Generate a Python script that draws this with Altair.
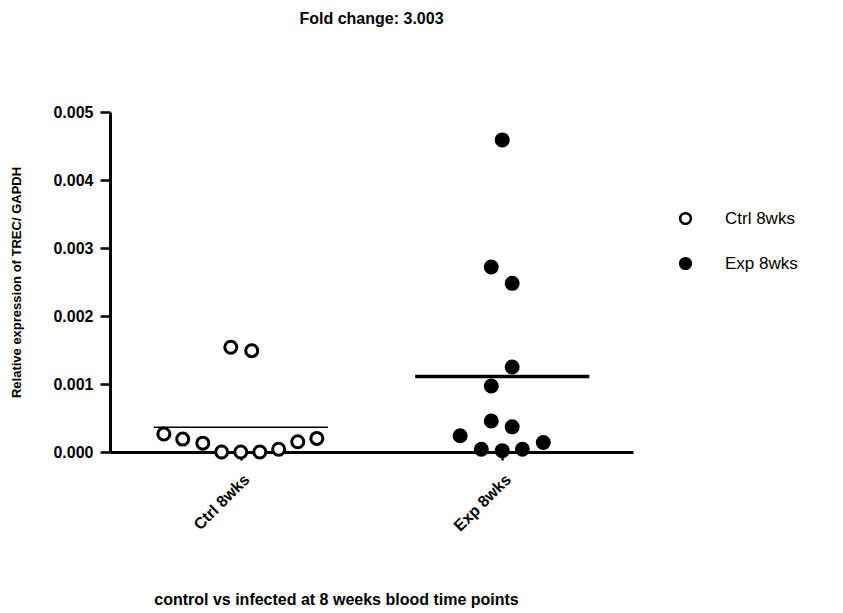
import altair as alt
import pandas as pd

groups = ["Ctrl 8wks", "Exp 8wks"]

ctrl_values = [0.00154, 0.00149, 0.000265, 0.00019, 0.00013, 0.0, 0.0, 0.0, 0.00004, 0.00015, 0.0002]
ctrl_offsets = [-0.038, 0.042, -0.294, -0.222, -0.145, -0.073, 0.0, 0.073, 0.145, 0.218, 0.291]

exp_values = [0.00459, 0.00272, 0.00248, 0.00125, 0.00097, 0.000456, 0.00037, 0.00024, 0.00014, 0.00004, 0.00002, 0.00004]
exp_offsets = [0.0, -0.042, 0.038, 0.038, -0.042, -0.042, 0.038, -0.161, 0.157, -0.08, 0.0, 0.077]

y_ticks = [0.0, 0.001, 0.002, 0.003, 0.004, 0.005]

rows = []
for v, o in zip(ctrl_values, ctrl_offsets):
    rows.append({"group": groups[0], "gi": 1, "value": v, "off": o})
for v, o in zip(exp_values, exp_offsets):
    rows.append({"group": groups[1], "gi": 2, "value": v, "off": o})
df = pd.DataFrame(rows)

FONT = "Liberation Sans"

x_scale = alt.Scale(domain=[0.5, 2.5], nice=False, zero=False)
y_scale = alt.Scale(domain=[0, 0.005], nice=False)

base = alt.Chart(df)

means = base.transform_aggregate(
    mean="mean(value)", groupby=["group", "gi"]
).transform_calculate(
    xa="datum.gi - 0.333", xb="datum.gi + 0.333", linegroup="'L' + datum.gi"
).mark_rule(color="black").encode(
    x=alt.X("xa:Q", scale=x_scale, axis=alt.Axis(
        values=[1, 2],
        labelExpr="datum.value == 1 ? 'Ctrl 8wks' : 'Exp 8wks'",
        labelAngle=-45, labelFontSize=16, labelFontWeight="bold", labelFont=FONT,
        tickSize=8, tickWidth=2.5, domainWidth=3, labelPadding=11,
        title="control vs infected at 8 weeks blood time points",
        titleFontSize=16, titleFontWeight="bold", titleFont=FONT,
        titleX=226, titleY=147, titleAlign="center", titleBaseline="middle",
        grid=False)),
    x2="xb:Q",
    y=alt.Y("mean:Q", scale=y_scale),
    strokeWidth=alt.StrokeWidth("linegroup:N", scale=alt.Scale(domain=["L1", "L2"], range=[1.5, 3.5]), legend=None),
)

points = base.transform_calculate(
    xp="datum.gi + datum.off"
).mark_point(shape="circle", filled=True, size=144, strokeWidth=3, stroke="black", opacity=1).encode(
    x=alt.X("xp:Q", scale=x_scale),
    y=alt.Y("value:Q", scale=y_scale, axis=alt.Axis(
        values=y_ticks, format=".3f",
        labelFontSize=16, labelFontWeight="bold", labelFont=FONT, labelPadding=7,
        tickSize=10, tickWidth=2.5, domainWidth=3,
        title="Relative expression of TREC/ GAPDH",
        titleFontSize=13, titleFontWeight="bold", titleFont=FONT,
        titleX=-94, titleY=170, titleAngle=-90, titleAlign="center", titleBaseline="middle",
        grid=False)),
    fill=alt.Fill("group:N", scale=alt.Scale(domain=groups, range=["white", "black"]),
                  legend=alt.Legend(title=None, orient="none", legendX=567, legendY=98,
                                    symbolType="circle", symbolSize=115, symbolStrokeColor="black",
                                    symbolStrokeWidth=2.5,
                                    labelFontSize=17, labelFont=FONT, labelOffset=31,
                                    rowPadding=24, padding=0, labelColor="black")),
)

chart = alt.layer(means, points).properties(
    width=523, height=340,
    padding={"left": 102, "top": 104, "right": 202, "bottom": 161},
    autosize=alt.AutoSizeParams(type="none"),
    title=alt.Title("Fold change: 3.003", fontSize=16, fontWeight="bold", font=FONT,
                    anchor="middle", frame="group", offset=77, color="black"),
).configure_view(stroke=None).configure_axis(
    domainColor="black", tickColor="black", labelColor="black", titleColor="black"
)

chart.save("out.html", embed_options={"renderer": "svg", "actions": False})
